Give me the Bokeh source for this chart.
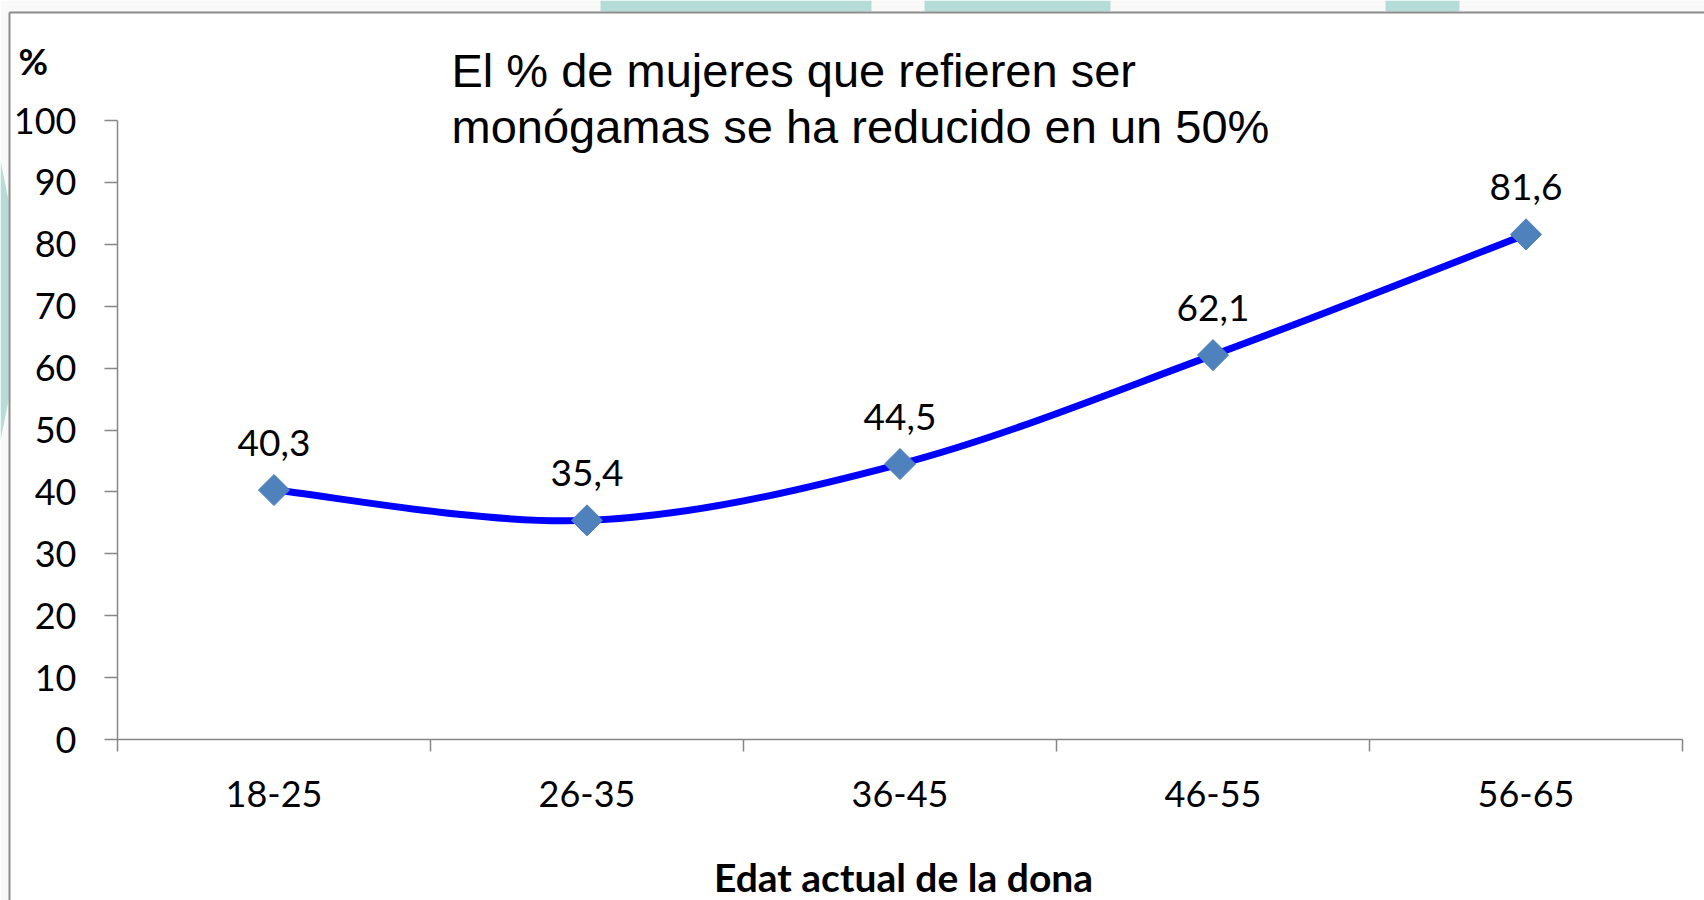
from bokeh.plotting import figure
from bokeh.models import ColumnDataSource, FixedTicker, Label, LabelSet, Range1d
from bokeh.core.properties import value
from bokeh.embed import file_html
from bokeh.resources import INLINE
import math

categories = ["18-25", "26-35", "36-45", "46-55", "56-65"]
values = [40.3, 35.4, 44.5, 62.1, 81.6]
value_labels = ["40,3", "35,4", "44,5", "62,1", "81,6"]
y_ticks = [0, 10, 20, 30, 40, 50, 60, 70, 80, 90, 100]
title_line1 = "El % de mujeres que refieren ser"
title_line2 = "monógamas se ha reducido en un 50%"
x_title = "Edat actual de la dona"
y_title = "%"

# ---- layout (page pixels) ----
W, H = 1704, 900
AX_X = 117          # page x of the value axis
AX_RIGHT = 1682     # page x of the right end of the category axis
AX_Y0 = 739         # page y of value 0
AX_Y100 = 120       # page y of value 100
PXX = (AX_RIGHT - AX_X) / len(categories)
PXY = (AX_Y0 - AX_Y100) / 100.0


def dx(px):   # page x -> data x
    return (px - AX_X) / PXX


def dy(py):   # page y -> data y
    return (AX_Y0 - py) / PXY


axis_grey = "#868686"
border_grey = "#8c8c8c"
tick_font = "Lato"
title_font = "Liberation Sans"

xs = [i + 0.5 for i in range(len(categories))]
n = len(xs)

# smoothed line (Bezier segments through the data points)
pts = list(zip(xs, values))
bz = dict(x0=[], y0=[], x1=[], y1=[], cx0=[], cy0=[], cx1=[], cy1=[])
for i in range(n - 1):
    p0 = pts[i - 1] if i > 0 else pts[i]
    p1 = pts[i]
    p2 = pts[i + 1]
    p3 = pts[i + 2] if i + 2 < n else pts[i + 1]
    bz["x0"].append(p1[0]); bz["y0"].append(p1[1])
    bz["x1"].append(p2[0]); bz["y1"].append(p2[1])
    bz["cx0"].append(p1[0] + (p2[0] - p0[0]) / 6); bz["cy0"].append(p1[1] + (p2[1] - p0[1]) / 6)
    bz["cx1"].append(p2[0] - (p3[0] - p1[0]) / 6); bz["cy1"].append(p2[1] - (p3[1] - p1[1]) / 6)

src = ColumnDataSource(dict(x=xs, y=values, label=value_labels))

p = figure(width=W, height=H, output_backend="svg", toolbar_location=None,
           x_range=Range1d(dx(0), dx(W)), y_range=Range1d(dy(H), dy(0)),
           min_border_left=0, min_border_right=0, min_border_top=0, min_border_bottom=0)
p.outline_line_color = None
p.xgrid.grid_line_color = None
p.ygrid.grid_line_color = None
p.background_fill_color = "white"
p.border_fill_color = "white"

# ---- slide background around the chart box ----
p.quad(left=[dx(0), dx(0)], right=[dx(W), dx(9)], top=[dy(0), dy(0)], bottom=[dy(12), dy(H)],
       fill_color="#f9f9f9", line_color=None, level="underlay")
p.quad(left=[dx(600), dx(924), dx(1385)], right=[dx(871), dx(1110), dx(1459)],
       top=[dy(0)] * 3, bottom=[dy(11)] * 3,
       fill_color="#b5dcd7", line_color=None, level="underlay")
p.patch(x=[dx(0), dx(8), dx(8), dx(0)], y=[dy(160), dy(200), dy(400), dy(440)],
        fill_color="#b5dcd7", line_color=None, level="underlay")
p.segment(x0=[dx(9), dx(9)], y0=[dy(12), dy(12)], x1=[dx(W), dx(9)], y1=[dy(12), dy(H)],
          line_color=border_grey, line_width=2, level="underlay")

# ---- x axis ----
p.xaxis.fixed_location = 0
p.xaxis.bounds = (0, len(categories))
p.xaxis.ticker = FixedTicker(ticks=xs, minor_ticks=list(range(len(categories) + 1)))
p.xaxis.major_label_overrides = {x: c for x, c in zip(xs, categories)}
p.xaxis.major_tick_out = 0
p.xaxis.major_tick_in = 0
p.xaxis.minor_tick_out = 12
p.xaxis.minor_tick_in = 0
p.xaxis.minor_tick_line_color = axis_grey
p.xaxis.minor_tick_line_width = 1.5
p.xaxis.axis_line_color = axis_grey
p.xaxis.axis_line_width = 1.5
p.xaxis.major_label_text_font = tick_font
p.xaxis.major_label_text_font_size = "36px"
p.xaxis.major_label_text_color = "black"
p.xaxis.major_label_standoff = 29

# ---- y axis ----
p.yaxis.fixed_location = 0
p.yaxis.bounds = (0, 100)
p.yaxis.ticker = FixedTicker(ticks=y_ticks)
p.yaxis.major_tick_out = 13
p.yaxis.major_tick_in = 0
p.yaxis.minor_tick_out = 0
p.yaxis.minor_tick_in = 0
p.yaxis.major_tick_line_color = axis_grey
p.yaxis.major_tick_line_width = 1.5
p.yaxis.axis_line_color = axis_grey
p.yaxis.axis_line_width = 1.5
p.yaxis.major_label_text_font = tick_font
p.yaxis.major_label_text_font_size = "36px"
p.yaxis.major_label_text_color = "black"
p.yaxis.major_label_standoff = 28

# ---- line and markers ----
p.bezier(x0="x0", y0="y0", x1="x1", y1="y1", cx0="cx0", cy0="cy0", cx1="cx1", cy1="cy1",
         source=ColumnDataSource(bz), line_color="#0000FF", line_width=7)
p.scatter(x="x", y="y", source=src, marker="square", size=22, angle=math.pi / 4,
          fill_color="#4F81BD", line_color="#4F81BD", line_width=1)

p.add_layout(LabelSet(x="x", y="y", text="label", source=src, y_offset=34,
                      text_align="center", text_baseline="alphabetic",
                      text_font=value(tick_font), text_font_size="37px", text_color="black"))

# ---- titles ----
p.add_layout(Label(x=dx(451), y=dy(70), text=title_line1, text_font=title_font,
                   text_font_size="47px", text_color="black", text_baseline="alphabetic"))
p.add_layout(Label(x=dx(451), y=dy(126), text=title_line2, text_font=title_font,
                   text_font_size="47px", text_color="black", text_baseline="alphabetic"))
p.add_layout(Label(x=dx(18), y=dy(60), text=y_title, text_font=tick_font, text_font_style="bold",
                   text_font_size="36px", text_color="black", text_baseline="alphabetic"))
p.add_layout(Label(x=dx(903), y=dy(876), text=x_title,
                   text_font=tick_font, text_font_style="bold", text_font_size="39px",
                   text_color="black", text_baseline="alphabetic", text_align="center"))

open("out.html", "w").write(file_html(p, INLINE))
